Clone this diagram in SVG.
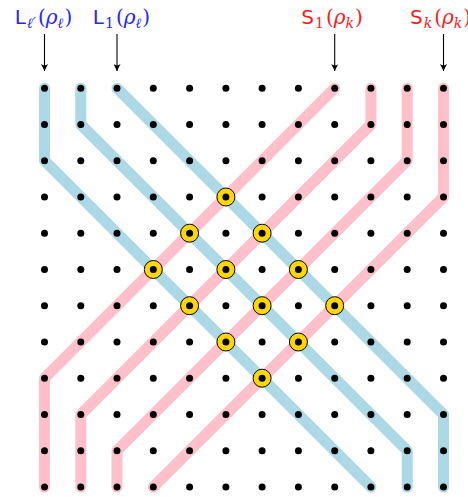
<svg xmlns="http://www.w3.org/2000/svg" width="468" height="497" viewBox="0 0 468 497">
<defs>
<style>
.lb{font-family:"DejaVu Sans","Liberation Sans",sans-serif;font-size:20px}
.mi{font-family:"DejaVu Serif","Liberation Serif",serif;font-style:italic}
.rm{font-family:"DejaVu Serif","Liberation Serif",serif;font-weight:300}
.sub{font-size:14px}
.blue{fill:#2626ff}
.red{fill:#ff1a1a}
.arr{stroke:#000;stroke-width:1.1;fill:none}
.pk{stroke:#ffc0cb;stroke-width:11;fill:none;stroke-linecap:round;stroke-linejoin:round}
.bl{stroke:#add8e6;stroke-width:11;fill:none;stroke-linecap:round;stroke-linejoin:round}
.x{fill:#ffd700;stroke:#000;stroke-width:1}
</style>
<marker id="ah" viewBox="0 0 10 10" refX="10" refY="5" markerWidth="10" markerHeight="7" markerUnits="userSpaceOnUse" orient="auto">
<path d="M0,0 Q4,5 0,10 L10,5 Z" fill="#000"/>
</marker>
</defs>

<g id="connectors">
<path class="pk" d="M334.7,88.2 L44.5,378.2 V487.0"/>
<path class="pk" d="M370.9,88.2 V124.5 L80.8,414.5 V487.0"/>
<path class="pk" d="M407.2,88.2 V160.7 L117.0,450.7 V487.0"/>
<path class="pk" d="M443.5,88.2 V197.0 L153.3,487.0"/>
<path class="bl" d="M44.5,88.2 V160.7 L370.9,487.0"/>
<path class="bl" d="M80.8,88.2 V124.5 L407.2,450.7 V487.0"/>
<path class="bl" d="M117.0,88.2 L443.5,414.5 V487.0"/>
<line class="arr" x1="44.5" y1="34" x2="44.5" y2="71" marker-end="url(#ah)"/>
<line class="arr" x1="117.0" y1="34" x2="117.0" y2="71" marker-end="url(#ah)"/>
<line class="arr" x1="334.7" y1="34" x2="334.7" y2="71" marker-end="url(#ah)"/>
<line class="arr" x1="443.5" y1="34" x2="443.5" y2="71" marker-end="url(#ah)"/>
</g>

<g id="crossings">
<circle class="x" cx="225.9" cy="197.0" r="9"/>
<circle class="x" cx="189.6" cy="233.2" r="9"/>
<circle class="x" cx="262.1" cy="233.2" r="9"/>
<circle class="x" cx="153.3" cy="269.5" r="9"/>
<circle class="x" cx="225.9" cy="269.5" r="9"/>
<circle class="x" cx="298.4" cy="269.5" r="9"/>
<circle class="x" cx="189.6" cy="305.7" r="9"/>
<circle class="x" cx="262.1" cy="305.7" r="9"/>
<circle class="x" cx="334.7" cy="305.7" r="9"/>
<circle class="x" cx="225.9" cy="342.0" r="9"/>
<circle class="x" cx="298.4" cy="342.0" r="9"/>
<circle class="x" cx="262.1" cy="378.2" r="9"/>
</g>

<g id="dots" fill="#000">
<g transform="translate(0,88.2)"><circle cx="44.5" r="3.5"/><circle cx="80.8" r="3.5"/><circle cx="117.0" r="3.5"/><circle cx="153.3" r="3.5"/><circle cx="189.6" r="3.5"/><circle cx="225.9" r="3.5"/><circle cx="262.1" r="3.5"/><circle cx="298.4" r="3.5"/><circle cx="334.7" r="3.5"/><circle cx="370.9" r="3.5"/><circle cx="407.2" r="3.5"/><circle cx="443.5" r="3.5"/></g>
<g transform="translate(0,124.5)"><circle cx="44.5" r="3.5"/><circle cx="80.8" r="3.5"/><circle cx="117.0" r="3.5"/><circle cx="153.3" r="3.5"/><circle cx="189.6" r="3.5"/><circle cx="225.9" r="3.5"/><circle cx="262.1" r="3.5"/><circle cx="298.4" r="3.5"/><circle cx="334.7" r="3.5"/><circle cx="370.9" r="3.5"/><circle cx="407.2" r="3.5"/><circle cx="443.5" r="3.5"/></g>
<g transform="translate(0,160.7)"><circle cx="44.5" r="3.5"/><circle cx="80.8" r="3.5"/><circle cx="117.0" r="3.5"/><circle cx="153.3" r="3.5"/><circle cx="189.6" r="3.5"/><circle cx="225.9" r="3.5"/><circle cx="262.1" r="3.5"/><circle cx="298.4" r="3.5"/><circle cx="334.7" r="3.5"/><circle cx="370.9" r="3.5"/><circle cx="407.2" r="3.5"/><circle cx="443.5" r="3.5"/></g>
<g transform="translate(0,197.0)"><circle cx="44.5" r="3.5"/><circle cx="80.8" r="3.5"/><circle cx="117.0" r="3.5"/><circle cx="153.3" r="3.5"/><circle cx="189.6" r="3.5"/><circle cx="225.9" r="3.5"/><circle cx="262.1" r="3.5"/><circle cx="298.4" r="3.5"/><circle cx="334.7" r="3.5"/><circle cx="370.9" r="3.5"/><circle cx="407.2" r="3.5"/><circle cx="443.5" r="3.5"/></g>
<g transform="translate(0,233.2)"><circle cx="44.5" r="3.5"/><circle cx="80.8" r="3.5"/><circle cx="117.0" r="3.5"/><circle cx="153.3" r="3.5"/><circle cx="189.6" r="3.5"/><circle cx="225.9" r="3.5"/><circle cx="262.1" r="3.5"/><circle cx="298.4" r="3.5"/><circle cx="334.7" r="3.5"/><circle cx="370.9" r="3.5"/><circle cx="407.2" r="3.5"/><circle cx="443.5" r="3.5"/></g>
<g transform="translate(0,269.5)"><circle cx="44.5" r="3.5"/><circle cx="80.8" r="3.5"/><circle cx="117.0" r="3.5"/><circle cx="153.3" r="3.5"/><circle cx="189.6" r="3.5"/><circle cx="225.9" r="3.5"/><circle cx="262.1" r="3.5"/><circle cx="298.4" r="3.5"/><circle cx="334.7" r="3.5"/><circle cx="370.9" r="3.5"/><circle cx="407.2" r="3.5"/><circle cx="443.5" r="3.5"/></g>
<g transform="translate(0,305.7)"><circle cx="44.5" r="3.5"/><circle cx="80.8" r="3.5"/><circle cx="117.0" r="3.5"/><circle cx="153.3" r="3.5"/><circle cx="189.6" r="3.5"/><circle cx="225.9" r="3.5"/><circle cx="262.1" r="3.5"/><circle cx="298.4" r="3.5"/><circle cx="334.7" r="3.5"/><circle cx="370.9" r="3.5"/><circle cx="407.2" r="3.5"/><circle cx="443.5" r="3.5"/></g>
<g transform="translate(0,342.0)"><circle cx="44.5" r="3.5"/><circle cx="80.8" r="3.5"/><circle cx="117.0" r="3.5"/><circle cx="153.3" r="3.5"/><circle cx="189.6" r="3.5"/><circle cx="225.9" r="3.5"/><circle cx="262.1" r="3.5"/><circle cx="298.4" r="3.5"/><circle cx="334.7" r="3.5"/><circle cx="370.9" r="3.5"/><circle cx="407.2" r="3.5"/><circle cx="443.5" r="3.5"/></g>
<g transform="translate(0,378.2)"><circle cx="44.5" r="3.5"/><circle cx="80.8" r="3.5"/><circle cx="117.0" r="3.5"/><circle cx="153.3" r="3.5"/><circle cx="189.6" r="3.5"/><circle cx="225.9" r="3.5"/><circle cx="262.1" r="3.5"/><circle cx="298.4" r="3.5"/><circle cx="334.7" r="3.5"/><circle cx="370.9" r="3.5"/><circle cx="407.2" r="3.5"/><circle cx="443.5" r="3.5"/></g>
<g transform="translate(0,414.5)"><circle cx="44.5" r="3.5"/><circle cx="80.8" r="3.5"/><circle cx="117.0" r="3.5"/><circle cx="153.3" r="3.5"/><circle cx="189.6" r="3.5"/><circle cx="225.9" r="3.5"/><circle cx="262.1" r="3.5"/><circle cx="298.4" r="3.5"/><circle cx="334.7" r="3.5"/><circle cx="370.9" r="3.5"/><circle cx="407.2" r="3.5"/><circle cx="443.5" r="3.5"/></g>
<g transform="translate(0,450.7)"><circle cx="44.5" r="3.5"/><circle cx="80.8" r="3.5"/><circle cx="117.0" r="3.5"/><circle cx="153.3" r="3.5"/><circle cx="189.6" r="3.5"/><circle cx="225.9" r="3.5"/><circle cx="262.1" r="3.5"/><circle cx="298.4" r="3.5"/><circle cx="334.7" r="3.5"/><circle cx="370.9" r="3.5"/><circle cx="407.2" r="3.5"/><circle cx="443.5" r="3.5"/></g>
<g transform="translate(0,487.0)"><circle cx="44.5" r="3.5"/><circle cx="80.8" r="3.5"/><circle cx="117.0" r="3.5"/><circle cx="153.3" r="3.5"/><circle cx="189.6" r="3.5"/><circle cx="225.9" r="3.5"/><circle cx="262.1" r="3.5"/><circle cx="298.4" r="3.5"/><circle cx="334.7" r="3.5"/><circle cx="370.9" r="3.5"/><circle cx="407.2" r="3.5"/><circle cx="443.5" r="3.5"/></g>
</g>

<g id="label-Lp">
<text class="lb blue" x="43.5" y="24" text-anchor="middle">L<tspan class="mi sub" dy="4" dx="1">ℓ′</tspan><tspan class="rm" dy="-4" dx="2">(</tspan><tspan class="mi">ρ</tspan><tspan class="mi sub" dy="4">ℓ</tspan><tspan class="rm" dy="-4" dx="1">)</tspan></text>
</g>
<g id="label-L1">
<text class="lb blue" x="121.5" y="24" text-anchor="middle">L<tspan class="rm sub" dy="4" dx="1">1</tspan><tspan class="rm" dy="-4" dx="2">(</tspan><tspan class="mi">ρ</tspan><tspan class="mi sub" dy="4">ℓ</tspan><tspan class="rm" dy="-4" dx="1">)</tspan></text>
</g>
<g id="label-S1">
<text class="lb red" x="332" y="24" text-anchor="middle">S<tspan class="rm sub" dy="4" dx="1">1</tspan><tspan class="rm" dy="-4" dx="2">(</tspan><tspan class="mi">ρ</tspan><tspan class="mi sub" dy="4">k</tspan><tspan class="rm" dy="-4" dx="1">)</tspan></text>
</g>
<g id="label-Sk">
<text class="lb red" x="410" y="24">S<tspan class="mi sub" dy="4" dx="1">k</tspan><tspan class="rm" dy="-4" dx="2">(</tspan><tspan class="mi">ρ</tspan><tspan class="mi sub" dy="4">k</tspan><tspan class="rm" dy="-4" dx="1">)</tspan></text>
</g>
</svg>
